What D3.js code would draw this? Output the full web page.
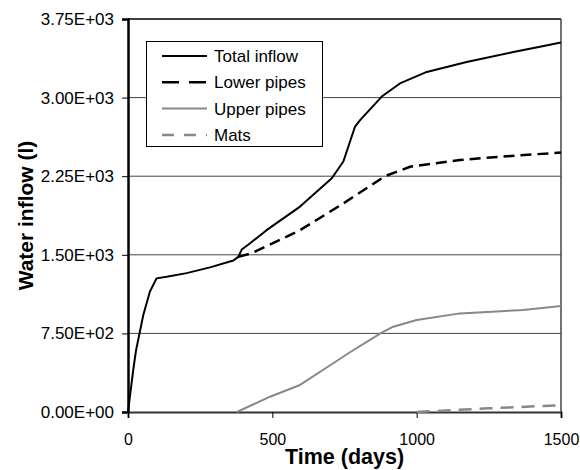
<!DOCTYPE html>
<html><head><meta charset="utf-8">
<script src="https://cdn.jsdelivr.net/npm/d3@7"></script>
<style>body{margin:0;background:#fff;} svg{display:block;}</style>
</head><body>
<script>
const xTicks = [0, 500, 1000, 1500];
const yTicks = [0, 750, 1500, 2250, 3000, 3750];
const yTickLabels = ["0.00E+00","7.50E+02","1.50E+03","2.25E+03","3.00E+03","3.75E+03"];

const totalInflow = [[0,0],[18,400],[28,590],[53,925],[76,1150],[99,1275],[134,1290],[203,1325],[284,1380],[365,1445],[382,1480],[394,1550],[423,1610],[480,1735],[596,1960],[706,2230],[746,2390],[786,2720],[804,2785],[879,3010],[942,3135],[1035,3245],[1173,3340],[1335,3435],[1427,3485],[1500,3525]];
const lowerPipes = [[382,1480],[429,1515],[596,1735],[746,1990],[890,2250],[977,2340],[1150,2405],[1358,2450],[1500,2475]];
const upperPipes = [[377,0],[492,146],[596,258],[711,465],[769,570],[879,757],[919,814],[1000,878],[1150,941],[1369,973],[1500,1011]];
const mats = [[1000,0],[1250,35],[1500,65]];

const seriesNames = ["Total inflow","Lower pipes","Upper pipes","Mats"];
const seriesData = [totalInflow, lowerPipes, upperPipes, mats];
const seriesStyle = [
  {color:"#000", dash:null, legendDash:null, w:2},
  {color:"#000", dash:"11,6", legendDash:"17,10", w:2.5},
  {color:"#888", dash:null, legendDash:null, w:2},
  {color:"#888", dash:"13,8", legendDash:"12,10", w:2.5}
];

const W = 580, H = 470;
const m = {left:128, right:19, top:19, bottom:58};
const svg = d3.select("body").append("svg").attr("width", W).attr("height", H);
const x = d3.scaleLinear().domain([0,1500]).range([m.left, W-m.right]);
const y = d3.scaleLinear().domain([0,3750]).range([H-m.bottom, m.top]);
const font = "'Liberation Sans', Arial, sans-serif";

// gridlines
svg.append("g").selectAll("line").data(yTicks.filter(d=>d>0 && d<3750)).join("line")
  .attr("x1", x(0)).attr("x2", x(1500)).attr("y1", d=>y(d)).attr("y2", d=>y(d))
  .attr("stroke", "#444").attr("stroke-width", 1);
// top border
svg.append("line").attr("x1", x(0)).attr("x2", x(1500)).attr("y1", y(3750)).attr("y2", y(3750))
  .attr("stroke","#000").attr("stroke-width",1.5);
// right border
svg.append("line").attr("x1", x(1500)).attr("x2", x(1500)).attr("y1", y(3750)).attr("y2", y(0))
  .attr("stroke","#444").attr("stroke-width",1.5);

// axes
const yAxis = d3.axisLeft(y).tickValues(yTicks).tickFormat((d,i)=>yTickLabels[i]).tickSize(6).tickPadding(8);
const gy = svg.append("g").attr("transform", `translate(${x(0)},0)`).call(yAxis);
gy.select(".domain").attr("stroke","#000").attr("stroke-width",2.5);
gy.selectAll(".tick line").attr("stroke","#000").attr("stroke-width",1);
gy.selectAll("text").attr("font-family", font).attr("font-size", 17).attr("fill","#000");

const xAxis = d3.axisBottom(x).tickValues(xTicks).tickFormat(d3.format("d")).tickSize(6).tickPadding(16);
const gx = svg.append("g").attr("transform", `translate(0,${y(0)})`).call(xAxis);
gx.select(".domain").attr("stroke","#333").attr("stroke-width",2);
gx.selectAll(".tick line").attr("stroke","#000").attr("stroke-width",1);
gx.selectAll("text").attr("font-family", font).attr("font-size", 16).attr("fill","#000");

// lines
const line = d3.line().x(d=>x(d[0])).y(d=>y(d[1]));
seriesData.forEach((data,i)=>{
  const s = seriesStyle[i];
  svg.append("path").datum(data).attr("d", line).attr("fill","none")
    .attr("stroke", s.color).attr("stroke-width", s.w)
    .attr("stroke-dasharray", s.dash).attr("stroke-linejoin","round");
});

// legend
const lg = svg.append("g");
lg.append("rect").attr("x",146.5).attr("y",41.5).attr("width",176).attr("height",105)
  .attr("fill","#fff").attr("stroke","#000").attr("stroke-width",1);
seriesNames.forEach((name,i)=>{
  const ly = 56 + i*26.3;
  const s = seriesStyle[i];
  lg.append("line").attr("x1",162).attr("x2",207).attr("y1",ly).attr("y2",ly)
    .attr("stroke",s.color).attr("stroke-width",s.w).attr("stroke-dasharray", s.legendDash);
  lg.append("text").attr("x",214).attr("y",ly+6).text(name)
    .attr("font-family",font).attr("font-size",17).attr("fill","#000");
});

// axis titles
svg.append("text").attr("x", (x(0)+x(1500))/2).attr("y", 464).attr("text-anchor","middle")
  .attr("font-family",font).attr("font-size",21.5).attr("font-weight","bold").text("Time (days)");
svg.append("text").attr("transform", `translate(33,${(y(0)+y(3750))/2}) rotate(-90)`).attr("text-anchor","middle")
  .attr("font-family",font).attr("font-size",21).attr("font-weight","bold").text("Water inflow (l)");
</script>
</body></html>
